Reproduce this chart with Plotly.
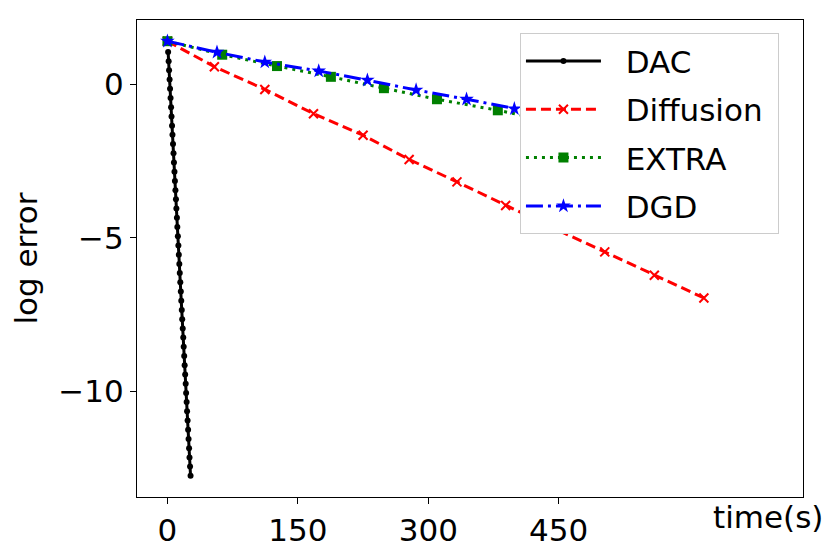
import plotly.graph_objects as go

# data
dac_t = [0.8, 1.4, 1.9, 2.5, 3.0, 3.6, 4.2, 4.7, 5.3, 5.8, 6.4, 7.0, 7.5, 8.1, 8.6, 9.2,
         9.8, 10.3, 10.9, 11.4, 12.0, 12.6, 13.1, 13.7, 14.2, 14.8, 15.4, 15.9, 16.5, 17.0,
         17.6, 18.2, 18.7, 19.3, 19.8, 20.4, 21.0, 21.5, 22.1, 22.6, 23.2, 23.8, 24.3, 24.9,
         25.4, 26.0, 26.6]
dac_err = [1.05, 0.75, 0.45, 0.15, -0.15, -0.45, -0.75, -1.05, -1.35, -1.65, -1.95, -2.25,
           -2.55, -2.85, -3.15, -3.45, -3.75, -4.05, -4.35, -4.65, -4.95, -5.25, -5.55, -5.85,
           -6.15, -6.45, -6.75, -7.05, -7.35, -7.65, -7.95, -8.25, -8.55, -8.85, -9.15, -9.45,
           -9.75, -10.05, -10.35, -10.65, -10.95, -11.25, -11.55, -11.85, -12.15, -12.45, -12.75]

diff_t = [0, 54, 112, 168, 225, 278, 333, 389, 446, 503, 560, 617]
diff_err = [1.40, 0.57, -0.17, -0.96, -1.66, -2.45, -3.18, -3.95, -4.71, -5.46, -6.22, -6.96]

extra_t = [0, 63, 126, 188, 249, 310, 380, 440]
extra_err = [1.40, 0.96, 0.59, 0.24, -0.13, -0.49, -0.85, -1.20]

dgd_t = [0, 57, 112, 174, 230, 286, 344, 399, 455]
dgd_err = [1.40, 1.04, 0.72, 0.43, 0.13, -0.19, -0.49, -0.80, -1.10]

x_ticks = [0, 150, 300, 450]
y_ticks = [0, -5, -10]

FONT = "DejaVu Sans"
NB = "\u00a0"  # padding spaces for the legend labels


def label(s):
    return NB * 2 + s + NB


fig = go.Figure()

fig.add_trace(go.Scatter(
    x=dac_t, y=dac_err, mode="lines+markers", name=label("DAC"), legendgroup="a",
    line=dict(color="black", width=3),
    marker=dict(symbol="circle", size=6, color="black")
))
fig.add_trace(go.Scatter(
    x=diff_t, y=diff_err, mode="lines+markers", name=label("Diffusion"), legendgroup="b",
    line=dict(color="#ff0000", width=3, dash="10px,5px"),
    marker=dict(symbol="x-thin", size=9, color="#ff0000",
                line=dict(color="#ff0000", width=2))
))
fig.add_trace(go.Scatter(
    x=extra_t, y=extra_err, mode="lines+markers", name=label("EXTRA"), legendgroup="c",
    line=dict(color="#008000", width=3, dash="3px,5px"),
    marker=dict(symbol="square", size=10, color="#008000")
))
fig.add_trace(go.Scatter(
    x=dgd_t, y=dgd_err, mode="lines+markers", name=label("DGD"), legendgroup="d",
    line=dict(color="#0000ff", width=3, dash="17px,5px,3px,5px"),
    marker=dict(symbol="star", size=11, color="#0000ff")
))

axis_style = dict(
    showline=True, mirror=True, linecolor="black", linewidth=1.3,
    showgrid=False, zeroline=False,
    ticks="outside", ticklen=6, tickwidth=1.3, tickcolor="black",
    tickfont=dict(family=FONT, size=31, color="black"),
)

fig.update_layout(
    width=830, height=551,
    margin=dict(l=129, r=35, t=11, b=54),
    paper_bgcolor="white", plot_bgcolor="white",
    font=dict(family=FONT, size=31, color="black"),
    xaxis=dict(range=[-35, 731], tickvals=x_ticks, **axis_style),
    yaxis=dict(range=[-13.44, 2.09], tickvals=y_ticks,
               title=dict(text="log error", font=dict(family=FONT, size=31), standoff=14),
               **axis_style),
    legend=dict(
        x=0.575, y=0.972, xanchor="left", yanchor="top",
        bgcolor="white", bordercolor="#cccccc", borderwidth=1,
        font=dict(family=FONT, size=31, color="black"),
        traceorder="grouped", tracegroupgap=5,
        itemwidth=75,
    ),
    annotations=[dict(
        text="time(s)", xref="paper", yref="paper", x=0.947, y=-0.042,
        xanchor="center", yanchor="middle", showarrow=False,
        font=dict(family=FONT, size=31, color="black")
    )],
)

fig.write_html("out.html")
